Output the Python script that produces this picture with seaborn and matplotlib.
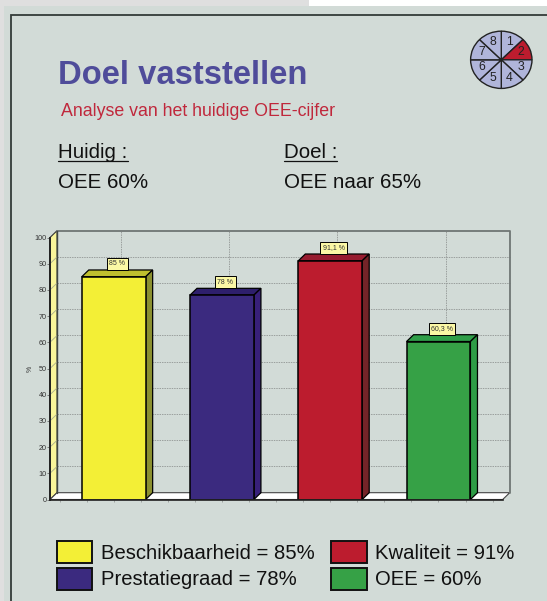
import matplotlib
matplotlib.use("Agg")
import matplotlib.pyplot as plt
from matplotlib.patches import Patch, Rectangle
import seaborn as sns

# waarden uit de grafiek
categories = ["Beschikbaarheid", "Prestatiegraad", "Kwaliteit", "OEE"]
values = [85, 78, 91.1, 60.3]
value_labels = ["85 %", "78 %", "91,1 %", "60,3 %"]
legend_labels = ["Beschikbaarheid = 85%", "Prestatiegraad = 78%", "Kwaliteit = 91%", "OEE = 60%"]
y_ticks = [0, 10, 20, 30, 40, 50, 60, 70, 80, 90, 100]
wheel_labels = ["1", "2", "3", "4", "5", "6", "7", "8"]
wheel_sizes = [1, 1, 1, 1, 1, 1, 1, 1]

front_colors = ["#F3EF36", "#3B2A7F", "#BC1C2E", "#36A146"]
top_colors = ["#BFBF2E", "#2E1F6C", "#971C30", "#2F9E48"]
side_colors = ["#8B9030", "#38207A", "#742428", "#2E9C46"]

W, H = 547, 601
BG = "#D2DBD7"
FONT = ["Liberation Sans", "DejaVu Sans"]

sns.set_theme(style="white")
plt.rcParams["font.family"] = FONT

fig = plt.figure(figsize=(W / 100, H / 100), dpi=100, facecolor=BG)

# achtergrond van de dia, in pixels
bg = fig.add_axes([0, 0, 1, 1], zorder=0)
bg.set_xlim(0, W)
bg.set_ylim(H, 0)
bg.axis("off")
bg.add_patch(Rectangle((0, 0), 4, H, color="#DFDFDF", lw=0))
bg.add_patch(Rectangle((0, 0), 309, 6, color="#DFDFDF", lw=0))
bg.add_patch(Rectangle((309, 0), W - 309, 6, color="white", lw=0))
bg.plot([11, 11, W], [H, 14.5, 14.5], color="#333B38", lw=1.3, solid_joinstyle="miter")

bg.text(58, 83.5, "Doel vaststellen", color="#4F4C9A", fontsize=23.6, fontweight="bold", va="baseline")
bg.text(61, 115.7, "Analyse van het huidige OEE-cijfer", color="#C0283C", fontsize=12.8, va="baseline")
bg.text(57.5, 158, "Huidig :", color="#111111", fontsize=14.8, va="baseline")
bg.text(57.5, 188.3, "OEE 60%", color="#111111", fontsize=14.8, va="baseline")
bg.text(284, 158, "Doel :", color="#111111", fontsize=14.8, va="baseline")
bg.text(284, 188.3, "OEE naar 65%", color="#111111", fontsize=14.8, va="baseline")
bg.plot([57.5, 127.7], [160.7, 160.7], color="#111111", lw=0.9)
bg.plot([284.3, 336.7], [160.7, 160.7], color="#111111", lw=0.9)
bg.text(30, 369, "%", fontsize=5, color="#333333", rotation=90, ha="center", va="center")

# grafiek: voorvlak van de 3D-staven
ax = fig.add_axes([50 / W, (H - 499.5) / H, 452.7 / W, 262 / H], zorder=1)
ax.patch.set_alpha(0)

sns.barplot(x=categories, y=values, hue=categories, palette=front_colors, width=0.59,
            dodge=False, legend=False, edgecolor="black", linewidth=1.1, saturation=1, ax=ax)

x_min, x_max = -0.588, 3.593
dx, dy = 0.065, 2.6  # diepte van het 3D-effect in data-eenheden
ax.set_xlim(x_min, x_max)
ax.set_ylim(0, 100)

# zijwand en vloer
ax.fill([x_min, x_min + dx, x_min + dx, x_min], [0, dy, 100 + dy, 100],
        facecolor="#F9F59A", edgecolor="#333333", lw=0.8, clip_on=False, zorder=1)
ax.fill([x_min, x_min + dx, x_max + dx, x_max], [0, dy, dy, 0],
        facecolor="white", edgecolor="#444444", lw=0.8, clip_on=False, zorder=1)

# raster op de achterwand
for t in y_ticks[1:-1]:
    ax.plot([x_min + dx, x_max + dx], [t + dy, t + dy], color="#9A9F9D", lw=0.7, ls=(0, (1.5, 1)),
            clip_on=False, zorder=1.5)
    ax.plot([x_min, x_min + dx], [t, t + dy], color="#A9AD8E", lw=0.6, clip_on=False, zorder=1.5)
for i in range(len(categories)):
    ax.plot([i + dx, i + dx], [dy, 100 + dy], color="#9A9F9D", lw=0.7, ls=(0, (1.5, 1)),
            clip_on=False, zorder=1.5)
ax.plot([x_min + dx, x_max + dx, x_max + dx], [100 + dy, 100 + dy, dy], color="#6F7674", lw=1.3,
        clip_on=False, zorder=1.5)
ax.plot([x_min + dx, x_min + dx], [dy, 100 + dy], color="#3F4644", lw=1.0, clip_on=False, zorder=1.5)

half = 0.59 / 2
for i, v in enumerate(values):
    ax.fill([i - half, i - half + dx, i + half + dx, i + half], [v, v + dy, v + dy, v],
            facecolor=top_colors[i], edgecolor="black", lw=0.9, clip_on=False, zorder=3)
    ax.fill([i + half, i + half + dx, i + half + dx, i + half], [0, dy, v + dy, v],
            facecolor=side_colors[i], edgecolor="black", lw=0.9, clip_on=False, zorder=3)
    ax.text(i + dx / 2, v + dy + 2.3, value_labels[i], fontsize=5, color="#333333", ha="center", va="center",
            bbox=dict(boxstyle="square,pad=0.35", facecolor="#FBF8A5", edgecolor="black", lw=0.7), zorder=5)
for container in ax.containers:
    for bar in container:
        bar.set_zorder(4)

sns.despine(ax=ax, top=True, right=True)
ax.spines["left"].set_color("#222222")
ax.spines["left"].set_linewidth(1.4)
ax.spines["bottom"].set_color("#222222")
ax.spines["bottom"].set_linewidth(1.2)
ax.spines["left"].set_zorder(2)
ax.spines["bottom"].set_zorder(6)
ax.set_yticks(y_ticks)
ax.set_yticks([t + 5 for t in y_ticks[:-1]], minor=True)
ax.set_xticks([x_min + 0.25 * k + 0.088 for k in range(17)])
ax.set_xticklabels([])
ax.tick_params(axis="y", which="major", left=True, length=2, width=0.5, labelsize=5.2, pad=0.5,
               labelcolor="#333333", color="#555555")
ax.tick_params(axis="y", which="minor", left=True, length=1, width=0.4, color="#777777")
ax.tick_params(axis="x", bottom=True, length=1.5, width=0.4, color="#777777")
ax.set_xlabel("")
ax.set_ylabel("")

# stappenwiel rechtsboven
wheel = fig.add_axes([470 / W, (H - 89) / H, 62.6 / W, 58.4 / H], zorder=2)
wheel_colors = ["#B0B5DA", "#BC1C2E", "#B0B5DA", "#B0B5DA", "#B0B5DA", "#B0B5DA", "#B0B5DA", "#B0B5DA"]
wedges, texts = wheel.pie(wheel_sizes, labels=wheel_labels, colors=wheel_colors, startangle=90,
                          counterclock=False, labeldistance=0.68, radius=1.0,
                          wedgeprops=dict(edgecolor="#222222", linewidth=1.0),
                          textprops=dict(fontsize=8.8, color="#222222", ha="center", va="center"))
wheel.set_aspect("auto")
wheel.set_xlim(-1.02, 1.02)
wheel.set_ylim(-1.02, 1.02)

# legenda
handles = [Patch(facecolor=c, edgecolor="#111111", lw=1.4) for c in front_colors]
leg = fig.legend(handles, legend_labels, ncols=2, loc="upper left", bbox_to_anchor=(52.5 / W, (H - 537) / H),
                 frameon=False, fontsize=14.6, handlelength=1.77, handleheight=1.27,
                 handletextpad=0.42, columnspacing=0.79, labelspacing=0.25, borderpad=0.2, borderaxespad=0)
for t in leg.get_texts():
    t.set_color("#111111")

fig.savefig("out.png", dpi=100, facecolor=BG)
